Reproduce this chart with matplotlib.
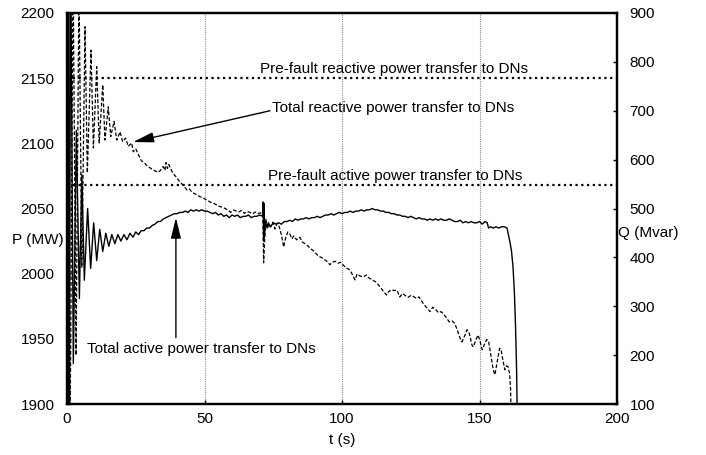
import matplotlib
matplotlib.use("Agg")
import matplotlib.pyplot as plt

plt.rcParams['font.family'] = ['Liberation Sans', 'DejaVu Sans']

# ---------------- data ----------------
t_p = [0, 0.15, 0.35, 0.55, 0.8, 1.3, 2.3, 3.4, 4.5, 5.4, 6.3, 7.5, 8.6, 9.7, 10.8, 11.9,
       13.0, 14.1, 15.2, 16.3, 17.4, 18.5, 19.6, 20.7, 21.8, 22.9, 24.0, 25, 26, 27, 28, 29,
       30, 31, 32, 33, 34, 35, 36, 37, 38, 39, 40, 41, 42, 43, 44, 45, 46, 47, 48, 49,
       50, 51, 52, 53, 54, 55, 56, 57, 58, 59, 60, 61, 62, 63, 64, 65, 66, 67, 68, 69,
       70, 71.2, 71.35, 71.5, 71.65, 71.8, 72.1, 72.6, 73.2, 74, 75, 76, 77, 78, 79,
       80, 81, 82, 83, 84, 85, 86, 87, 88, 89, 90, 91, 92, 93, 94, 95, 96, 97, 98, 99,
       100, 101, 102, 103, 104, 105, 106, 107, 108, 109, 110, 111, 112, 113, 114, 115,
       116, 117, 118, 119, 120, 121, 122, 123, 124, 125, 126, 127, 128, 129, 130, 131,
       132, 133, 134, 135, 136, 137, 138, 139, 140, 141, 142, 143, 144, 145, 146, 147,
       148, 149, 150, 151, 152, 152.8, 153.3, 154, 155, 156, 157, 158, 159, 160, 160.5,
       161.0, 161.6, 162.2, 162.7, 163.1, 163.5, 163.8]
p_mw = [2068, 2300, 1800, 2300, 1800, 2260, 1931, 2110, 1981, 2076, 1995, 2050, 2004, 2039, 2010, 2034,
        2017, 2031, 2021, 2030, 2023, 2030, 2025, 2030, 2026, 2031, 2028, 2032, 2030, 2033, 2033, 2035,
        2035, 2037, 2038, 2040, 2040, 2042, 2043, 2044, 2045, 2046, 2046, 2047, 2047, 2048, 2047, 2049, 2048, 2049, 2048, 2049,
        2048, 2048, 2047, 2046, 2047, 2045, 2046, 2044, 2045, 2043, 2045, 2044, 2045, 2043, 2044, 2044, 2045, 2043, 2044, 2044,
        2045, 2044, 2055, 2025, 2054, 2028, 2040, 2036, 2039, 2036, 2039, 2038, 2039, 2038, 2040,
        2040, 2041, 2040, 2042, 2041, 2042, 2042, 2043, 2042, 2043, 2043, 2044, 2043, 2044, 2045, 2045, 2046, 2045, 2046, 2047,
        2046, 2047, 2047, 2048, 2047, 2048, 2048, 2049, 2048, 2049, 2049, 2050, 2049, 2049, 2048, 2048,
        2047, 2047, 2046, 2046, 2045, 2045, 2044, 2044, 2043, 2044, 2043, 2042, 2043, 2042, 2042, 2041,
        2042, 2041, 2042, 2041, 2042, 2041, 2041, 2042, 2041, 2040, 2040, 2041, 2039, 2040, 2039, 2040,
        2039, 2039, 2040, 2038, 2040, 2039, 2035, 2036, 2035, 2036, 2035, 2036, 2036, 2035, 2030,
        2025, 2018, 2005, 1985, 1960, 1925, 1880]

t_q = [0, 0.1, 1.1, 2.2, 3.3, 4.35, 5.4, 6.55, 7.4, 8.73, 9.6, 10.8, 11.7, 13.0, 13.8, 15.0,
       15.9, 17.1, 18.1, 19.3, 20.2, 21.3, 22.3, 23.5, 24.1, 25, 26, 27, 28, 29, 30, 31, 32,
       33, 34, 35, 35.6, 36, 36.5, 37, 38, 38.5, 39.5, 40.5, 41.5, 42.5, 43.6, 44.5, 45.5,
       46.5, 47.5, 48.4, 49.5, 50.5, 51.5, 52.5, 53.5, 54.5, 55.5, 56.5, 57.5, 58.5, 59.5,
       60.5, 61.5, 62.5, 63.5, 64.5, 65.5, 66.5, 67.5, 68.5, 69.5, 70.5, 71.2, 71.5, 71.9,
       72.3, 72.8, 73.4, 74, 74.8, 75.6, 76.4, 77.2, 78, 78.8, 79.5, 80.3, 81, 81.8, 82.5,
       83.5, 84.7, 85.5, 86.5, 87.5, 88.5, 89.5, 90.5, 91.5, 92.5, 93.5, 94.5, 95.6, 96.5,
       97.5, 98.5, 99.5, 100.5, 101.5, 102.5, 103.5, 104.7, 105.5, 106.5, 107.8, 108.8,
       109.8, 111, 112.2, 113.2, 113.8, 114.6, 115.4, 116.2, 117, 118, 119, 120, 121, 122,
       123, 124, 125, 126, 127, 128, 129, 130, 131, 132, 133, 134, 135, 136, 137, 138, 139,
       140, 141, 142, 143, 143.6, 144.5, 145.5, 146.3, 147.3, 147.8, 148.7, 149.5, 150.3,
       151, 151.8, 152.6, 153.3, 154.2, 155, 155.6, 156.4, 157.3, 157.8, 158.5, 159.2,
       159.8, 160.4, 161.0, 161.3, 161.6]
q_mvar = [767, 1000, 0, 1000, 200, 960, 380, 872, 573, 824, 624, 790, 634, 753, 640, 708,
          647, 678, 640, 657, 637, 644, 627, 634, 616, 622, 610, 598, 594, 588, 584, 580, 577,
          574, 578, 586, 578, 594, 582, 590, 578, 572, 566, 558, 552, 546, 538, 540, 533,
          530, 527, 524, 522, 518, 515, 512, 510, 507, 504, 503, 500, 497, 492,
          497, 495, 493, 496, 490, 494, 492, 489, 493, 490, 491, 489, 389, 440,
          478, 458, 468, 462, 472, 458, 470, 462, 445, 421, 440, 452, 448, 438, 444,
          436, 441, 432, 428, 424, 418, 414, 408, 402, 400, 396, 392, 385, 390,
          392, 388, 390, 384, 378, 376, 368, 354, 366, 362, 360, 364,
          358, 354, 350, 344, 340, 334, 328, 323, 330, 334, 332, 333, 319, 326,
          322, 318, 322, 320, 316, 319, 310, 302, 296, 289, 298, 294, 287, 289, 284, 276, 268,
          270, 265, 250, 234, 227, 238, 252, 244, 220, 217, 232, 241, 226,
          211, 222, 232, 228, 198, 170, 160, 185, 214, 212, 190, 170,
          178, 176, 160, 130, 40]

prefault_p = 2068
prefault_q = 767

x_ticks = [0, 50, 100, 150, 200]
p_ticks = [1900, 1950, 2000, 2050, 2100, 2150, 2200]
q_ticks = [100, 200, 300, 400, 500, 600, 700, 800, 900]

# ---------------- figure ----------------
fig = plt.figure(figsize=(7.06, 4.55), dpi=100)
ax = fig.add_axes([67/706, 1-404/455, 550/706, 391/455])
ax2 = ax.twinx()

ax.set_xlim(0, 200)
ax.set_ylim(1900, 2200)
ax2.set_ylim(100, 900)

for x in [50, 100, 150]:
    ax.axvline(x, color='#8a8a8a', ls=(0, (1, 1)), lw=0.8, zorder=0)

ax.axhline(prefault_p, color='k', ls=(0, (1, 1.6)), lw=1.6, zorder=2)
ax2.axhline(prefault_q, color='k', ls=(0, (1, 1.6)), lw=1.6, zorder=2)

ax.plot(t_p, p_mw, color='k', lw=1.0, zorder=3)
ax2.plot(t_q, q_mvar, color='k', lw=0.9, ls=(0, (3, 1.6)), zorder=3)

fs = 11
ax.set_xticks(x_ticks)
ax.set_yticks(p_ticks)
ax2.set_yticks(q_ticks)
ax.tick_params(axis='both', direction='in', length=3, width=1, labelsize=fs, pad=8)
ax2.tick_params(axis='y', direction='in', length=3, width=1, labelsize=fs, pad=9)
ax.tick_params(axis='x', pad=6)
ax.tick_params(axis='y', pad=9)
for a in (ax, ax2):
    for s in a.spines.values():
        s.set_linewidth(1.6)

ax.text(-0.006, (404-240)/391, 'P (MW)', transform=ax.transAxes, ha='right', va='center', fontsize=fs)
ax.text(1.002, (404-233)/391, 'Q (Mvar)', transform=ax.transAxes, ha='left', va='center', fontsize=fs)
ax.text(0.5, (404-440)/391, 't (s)', transform=ax.transAxes, ha='center', va='center', fontsize=fs)

ax2.text(70.2, 785, 'Pre-fault reactive power transfer to DNs', ha='left', va='center', fontsize=fs)
ax.text(73.1, 2074.6, 'Pre-fault active power transfer to DNs', ha='left', va='center', fontsize=fs)

arrow = dict(arrowstyle='-|>,head_length=0.9,head_width=0.22', color='k', lw=1.0,
             shrinkA=0, shrinkB=0, mutation_scale=14)
ax2.annotate('', xy=(24.0, 636), xytext=(73.8, 700), arrowprops=arrow)
ax2.text(74.5, 706, 'Total reactive power transfer to DNs', ha='left', va='center', fontsize=fs)

ax.annotate('', xy=(39.6, 2043), xytext=(39.6, 1951), arrowprops=arrow)
ax.text(7.3, 1942.3, 'Total active power transfer to DNs', ha='left', va='center', fontsize=fs)

fig.savefig('out.png', dpi=100)
